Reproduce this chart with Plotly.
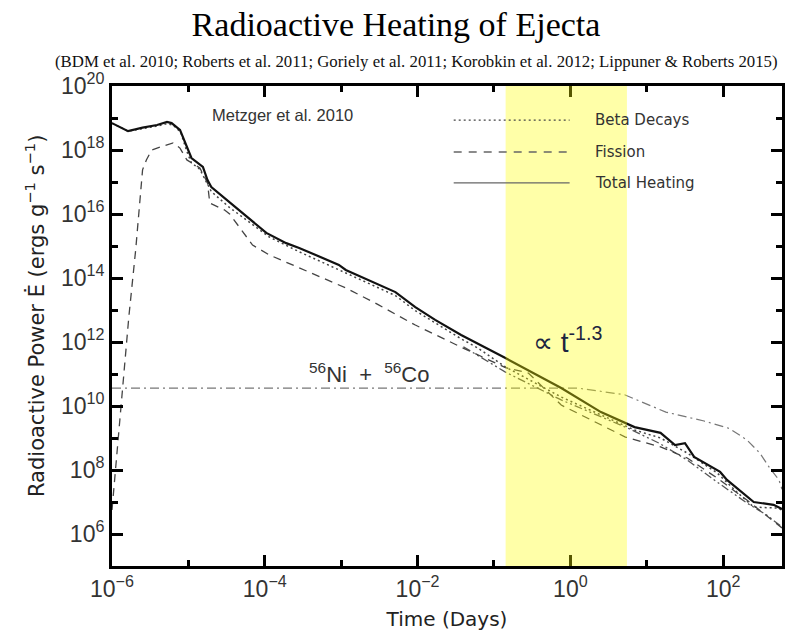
import plotly.graph_objects as go

# ---- data: log10(time / days) and log10(power / erg g^-1 s^-1) ----
total_lt = [-6.0, -5.79, -5.60, -5.41, -5.28, -5.22, -5.11, -5.02, -4.96, -4.81, -4.75, -4.70,
            -4.50, -4.29, -3.98, -3.72, -3.55, -3.03, -2.94, -2.29, -2.03, -1.77, -1.43, -0.85,
            -0.12, 0.40, 0.84, 1.18, 1.37, 1.50, 1.62, 1.96, 2.05, 2.40, 2.66, 2.77]
total_le = [18.84, 18.59, 18.70, 18.78, 18.875, 18.84, 18.63, 18.09, 17.75, 17.47, 17.06, 16.84,
            16.45, 16.03, 15.41, 15.09, 14.94, 14.41, 14.25, 13.56, 13.09, 12.69, 12.22, 11.50,
            10.56, 9.81, 9.34, 9.16, 8.78, 8.84, 8.41, 7.94, 7.69, 7.00, 6.91, 6.78]

beta_lt = [-6.0, -5.79, -5.41, -5.28, -5.20, -5.10, -5.02, -4.96, -4.85, -4.75, -4.70, -4.46,
           -3.94, -3.55, -2.94, -2.29, -2.03, -1.43, -1.21, -0.85, -0.12, 0.84, 1.18, 1.53,
           1.92, 2.18, 2.40, 2.70, 2.77]
beta_le = [18.84, 18.59, 18.75, 18.82, 18.78, 18.55, 17.95, 17.60, 17.40, 16.95, 16.70, 16.20,
           15.28, 14.82, 14.15, 13.45, 12.98, 12.10, 11.81, 11.22, 10.28, 9.25, 9.00, 8.53,
           7.91, 7.31, 6.84, 6.81, 6.75]

fission_lt = [-6.0, -5.97, -5.93, -5.88, -5.82, -5.78, -5.69, -5.60, -5.55, -5.50, -5.48, -5.37,
              -5.20, -5.11, -5.02, -4.85, -4.75, -4.72, -4.53, -4.46, -4.29, -4.16, -3.94, -3.55,
              -2.94, -2.51, -2.03, -1.43, -0.85, -0.55, -0.12, 0.72, 1.18, 1.53, 1.92, 2.31, 2.77]
fission_le = [6.75, 7.59, 8.84, 10.19, 11.75, 12.78, 14.88, 17.38, 17.69, 17.94, 18.00, 18.09,
              18.22, 18.06, 17.69, 17.44, 16.97, 16.34, 16.13, 16.00, 15.44, 15.03, 14.72, 14.31,
              13.69, 13.16, 12.53, 11.84, 11.20, 11.03, 10.03, 9.03, 8.72, 8.375, 7.75, 7.06, 6.19]

other_lt = [-1.40, -0.85, -0.12, 0.75, 1.16, 1.53, 1.92, 2.31, 2.57, 2.77]
other_le = [11.85, 11.06, 10.19, 9.31, 8.84, 8.31, 7.625, 6.97, 6.59, 6.22]

nico_lt = [-6.0, 0.10, 0.71, 1.25, 1.75, 2.08, 2.31, 2.48, 2.61, 2.73, 2.77]
nico_le = [10.56, 10.56, 10.35, 9.81, 9.53, 9.30, 8.94, 8.53, 8.06, 7.69, 7.40]

band_days = [0.142, 5.5]
legend_labels = ["Beta Decays", "Fission", "Total Heating"]
x_exps = [-6, -4, -2, 0, 2]
x_minor_exps = [-5, -3, -1, 1]
y_exps = [6, 8, 10, 12, 14, 16, 18, 20]
y_minor_exps = [5, 7, 9, 11, 13, 15, 17, 19]


def pw(v):
    return [10.0 ** a for a in v]


def lab(e):
    return "10<sup>%s</sup>" % (str(e).replace("-", "−"))


fig = go.Figure()

fig.add_trace(go.Scatter(x=pw(nico_lt), y=pw(nico_le), mode="lines",
                         line=dict(color="#777", width=1.2, dash="9px,4px,2px,4px")))
fig.add_trace(go.Scatter(x=pw(other_lt), y=pw(other_le), mode="lines",
                         line=dict(color="#555", width=1.3, dash="8px,3px,2px,3px,2px,3px")))
fig.add_trace(go.Scatter(x=pw(fission_lt), y=pw(fission_le), mode="lines",
                         line=dict(color="#444", width=1.3, dash="8px,6px")))
fig.add_trace(go.Scatter(x=pw(beta_lt), y=pw(beta_le), mode="lines",
                         line=dict(color="#444", width=1.5, dash="2px,3px")))
fig.add_trace(go.Scatter(x=pw(total_lt), y=pw(total_le), mode="lines",
                         line=dict(color="#111", width=2.2)))

# yellow highlight band (semi-transparent, drawn over)
fig.add_shape(type="rect", xref="x", yref="paper", x0=band_days[0], x1=band_days[1],
              y0=0, y1=1, fillcolor="rgba(255,255,0,0.34)", line=dict(width=0), layer="above")

# manual legend
leg_styles = [dict(color="#444", width=1.3, dash="2px,3px"),
              dict(color="#666", width=1.3, dash="8px,7px"),
              dict(color="#666", width=1.3)]
leg_y = [0.929, 0.8625, 0.798]
for lb, st, yy in zip(legend_labels, leg_styles, leg_y):
    fig.add_shape(type="line", xref="paper", yref="paper", x0=0.51, x1=0.683, y0=yy, y1=yy,
                  line=st, layer="above")
    fig.add_annotation(xref="paper", yref="paper", x=0.718, y=yy, text=lb, showarrow=False,
                       xanchor="left", yanchor="middle",
                       font=dict(family="DejaVu Sans", size=15, color="#333"))

fig.add_annotation(xref="paper", yref="paper", x=0.1456, y=0.94, text="Metzger et al. 2010",
                   showarrow=False, xanchor="left", yanchor="middle",
                   font=dict(family="Liberation Sans", size=16.5, color="#333"))
fig.add_annotation(xref="paper", yref="paper", x=0.6256, y=0.47, text="∝ t<sup>-1.3</sup>",
                   showarrow=False, xanchor="left", yanchor="middle",
                   font=dict(family="Liberation Sans", size=28, color="#1c2440"))
fig.add_annotation(xref="paper", yref="paper", x=0.383, y=0.402,
                   text="<sup>56</sup>Ni\u00a0\u00a0+\u00a0\u00a0<sup>56</sup>Co",
                   showarrow=False, xanchor="center", yanchor="middle",
                   font=dict(family="Liberation Sans", size=22, color="#333"))
fig.add_annotation(xref="paper", yref="paper", x=0.455, y=1.075,
                   text="(BDM et al. 2010; Roberts et al. 2011; Goriely et al. 2011; Korobkin et al. 2012; Lippuner &amp; Roberts 2015)",
                   showarrow=False, font=dict(family="Liberation Serif", size=16.8, color="#111"))
# y-axis title
fig.add_annotation(xref="paper", yref="paper", x=-0.114, y=0.52, textangle=-90,
                   text="Radioactive Power Ė (ergs g<sup>−1</sup> s<sup>−1</sup>)",
                   showarrow=False, xanchor="center", yanchor="middle",
                   font=dict(family="DejaVu Sans", size=21, color="#222"))

axis_common = dict(showline=True, linecolor="black", linewidth=3, mirror="ticks",
                   ticks="inside", tickwidth=3, ticklen=11, tickcolor="black",
                   showgrid=False, zeroline=False, tickmode="array",
                   tickfont=dict(family="Liberation Sans", size=23, color="#333"))

fig.update_xaxes(type="log", range=[-6, 2.77],
                 tickvals=pw(x_exps), ticktext=[lab(e) for e in x_exps],
                 minor=dict(ticks="inside", ticklen=6, tickwidth=3, tickcolor="black",
                            tickmode="array", tickvals=pw(x_minor_exps), showgrid=False),
                 **axis_common,
                 title=dict(text="Time (Days)", standoff=12,
                            font=dict(family="DejaVu Sans", size=20, color="#222")))
fig.update_yaxes(type="log", range=[5, 20],
                 tickvals=pw(y_exps), ticktext=[lab(e) for e in y_exps],
                 minor=dict(ticks="inside", ticklen=6, tickwidth=3, tickcolor="black",
                            tickmode="array", tickvals=pw(y_minor_exps), showgrid=False),
                 **axis_common)

fig.update_layout(
    width=792, height=635,
    margin=dict(l=112, r=7, t=86, b=69),
    paper_bgcolor="white", plot_bgcolor="white",
    showlegend=False,
    title=dict(text="Radioactive Heating of Ejecta", x=0.5, xanchor="center",
               y=1 - 24 / 635, yanchor="middle",
               font=dict(family="Liberation Serif", size=34, color="black")),
)

fig.write_html("out.html")
